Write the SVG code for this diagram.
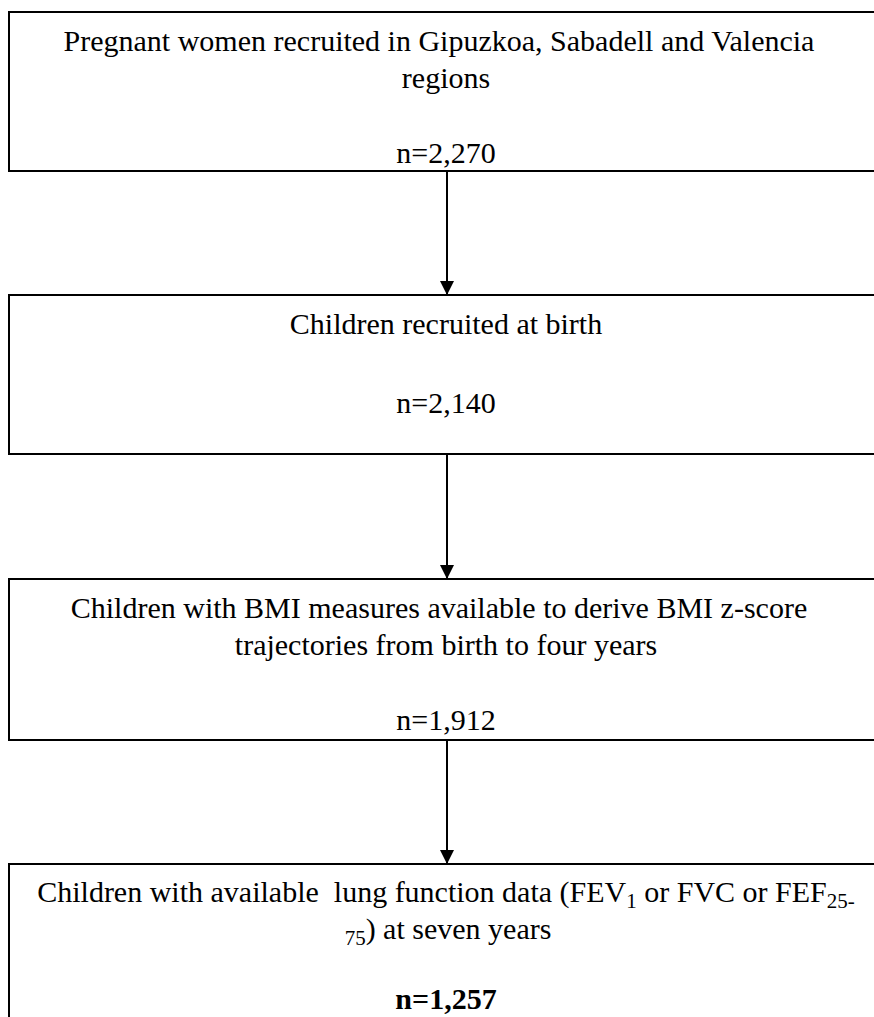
<svg xmlns="http://www.w3.org/2000/svg" width="874" height="1017" viewBox="0 0 874 1017">
<defs>
<style>
.box{fill:#fff;stroke:#000;stroke-width:2}
.t{font-family:'Liberation Serif','DejaVu Serif',serif;font-size:30px;fill:#000;text-anchor:middle}
.b{font-weight:bold}
.edge{stroke:#000;stroke-width:2;fill:none}
</style>
<marker id="ah" markerUnits="userSpaceOnUse" markerWidth="14" markerHeight="16" refX="14" refY="7" orient="auto">
<path d="M0,0 L14,7 L0,14 Z" fill="#000"/>
</marker>
</defs>
<rect width="874" height="1017" fill="#fff"/>
<g id="connectors">
<line class="edge" x1="447" y1="172" x2="447" y2="295" marker-end="url(#ah)"/>
<line class="edge" x1="447" y1="454" x2="447" y2="579" marker-end="url(#ah)"/>
<line class="edge" x1="447" y1="740" x2="447" y2="864" marker-end="url(#ah)"/>
</g>
<g id="node1">
<rect class="box" x="9" y="12" width="880" height="159"/>
<text class="t" x="439" y="51">Pregnant women recruited in Gipuzkoa, Sabadell and Valencia</text>
<text class="t" x="446" y="88">regions</text>
<text class="t" x="446" y="163">n=2,270</text>
</g>
<g id="node2">
<rect class="box" x="9" y="295" width="880" height="159"/>
<text class="t" x="446" y="334">Children recruited at birth</text>
<text class="t" x="446" y="413">n=2,140</text>
</g>
<g id="node3">
<rect class="box" x="9" y="579" width="880" height="161"/>
<text class="t" x="439" y="618">Children with BMI measures available to derive BMI z-score</text>
<text class="t" x="446" y="655">trajectories from birth to four years</text>
<text class="t" x="446" y="730">n=1,912</text>
</g>
<g id="node4">
<rect class="box" x="9" y="864" width="880" height="170"/>
<text class="t" x="446" y="902">Children with available&#160; lung function data (FEV<tspan font-size="21" dy="6">1</tspan><tspan dy="-6"> or FVC or FEF</tspan><tspan font-size="21" dy="6">25-</tspan></text>
<text class="t" x="448" y="939"><tspan font-size="21" dy="6">75</tspan><tspan dy="-6">) at seven years</tspan></text>
<text class="t b" x="446" y="1009">n=1,257</text>
</g>
</svg>
